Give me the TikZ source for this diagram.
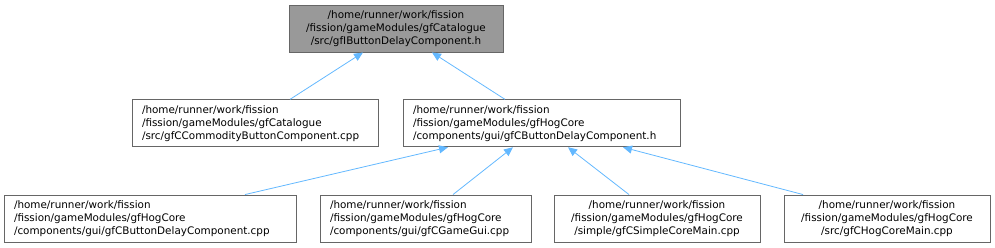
\documentclass[tikz,border=0pt]{standalone}
\usepackage{fontspec}
\setmainfont{DejaVu Sans}
\usepackage{xcolor}
\usetikzlibrary{arrows.meta, positioning, calc}
\definecolor{edgeblue}{HTML}{63B8FF}
\definecolor{boxgray}{HTML}{666666}
\definecolor{curfill}{HTML}{999999}

\begin{document}
\begin{tikzpicture}[
    x = 1pt, y = -1pt,
    file/.style = {
        rectangle, draw=boxgray, line width=0.9pt, fill=white,
        minimum height = 47pt,
        inner xsep = 10pt, inner ysep = 0pt,
        font = \fontsize{10.4}{13}\selectfont,
        align = left
    },
    current/.style = { file, fill = curfill },
    dep/.style = { -{Triangle[length=9pt, width=8pt]}, draw=edgeblue, line width=0.8pt },
]
\useasboundingbox (0,0) rectangle (995,247);

%% ── Boxes ────────────────────────────────────────────────────────────────
\node[current, text width=194pt, align=center] (hdr) at (396,28.5) {%
    /home/runner/work/fission\\
    /fission/gameModules/gfCatalogue\\
    /src/gfIButtonDelayComponent.h
};

\node[file, text width=226pt] (commodity) at (255,123.3) {%
    /home/runner/work/fission\\
    /fission/gameModules/gfCatalogue\\
    /src/gfCCommodityButtonComponent.cpp
};

\node[file, text width=257pt] (delayh) at (541.5,123.3) {%
    /home/runner/work/fission\\
    /fission/gameModules/gfHogCore\\
    /components/gui/gfCButtonDelayComponent.h
};

\node[file, text width=272pt] (delaycpp) at (150,218.5) {%
    /home/runner/work/fission\\
    /fission/gameModules/gfHogCore\\
    /components/gui/gfCButtonDelayComponent.cpp
};

\node[file, text width=191pt] (gamegui) at (425.5,218.5) {%
    /home/runner/work/fission\\
    /fission/gameModules/gfHogCore\\
    /components/gui/gfCGameGui.cpp
};

\node[file, text width=186pt, align=center] (simplemain) at (657,218.5) {%
    /home/runner/work/fission\\
    /fission/gameModules/gfHogCore\\
    /simple/gfCSimpleCoreMain.cpp
};

\node[file, text width=186pt, align=center] (hogmain) at (887,218.5) {%
    /home/runner/work/fission\\
    /fission/gameModules/gfHogCore\\
    /src/gfCHogCoreMain.cpp
};

%% ── Include arrows ──────────────────────────────────────────────────────
\draw[dep] ([xshift=35pt] commodity.north) -- ([xshift=-33pt] hdr.south);
\draw[dep] ([xshift=-36.5pt] delayh.north) -- ([xshift=36pt] hdr.south);

\draw[dep] ([xshift=95pt] delaycpp.north)   -- ([xshift=-93.5pt] delayh.south);
\draw[dep] ([xshift=27.5pt] gamegui.north)  -- ([xshift=-28.5pt] delayh.south);
\draw[dep] ([xshift=-28pt] simplemain.north) -- ([xshift=26.5pt] delayh.south);
\draw[dep] ([xshift=-84pt] hogmain.north)   -- ([xshift=81.5pt] delayh.south);

\end{tikzpicture}
\end{document}
